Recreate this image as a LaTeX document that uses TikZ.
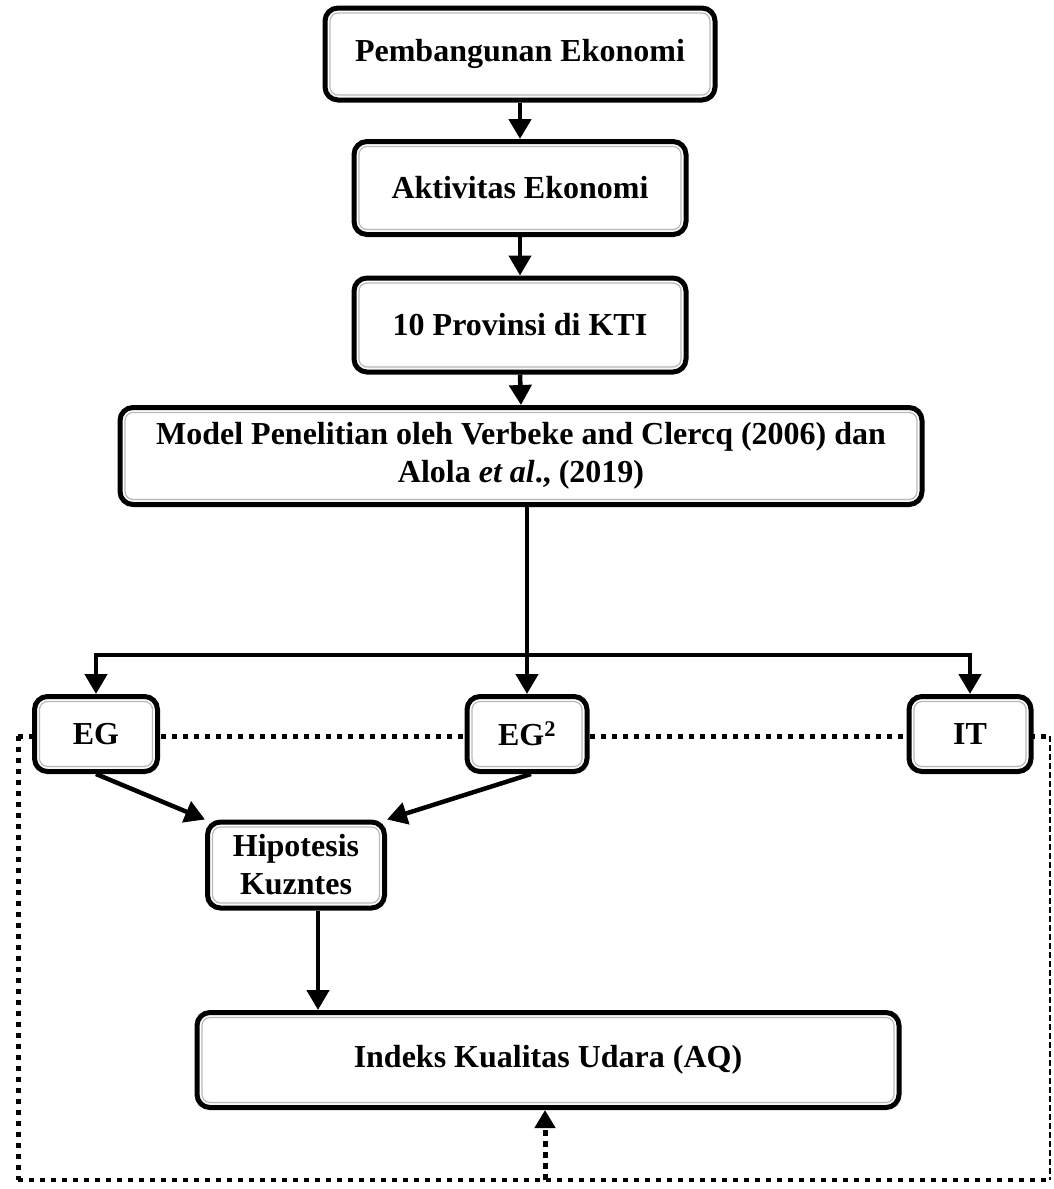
\documentclass[tikz,border=0pt]{standalone}
\usepackage{fontspec}
\setmainfont{Liberation Serif}
\usetikzlibrary{arrows.meta}
\pgfdeclareverticalshading{bevel}{100bp}{color(0bp)=(gray!60); color(12bp)=(gray!30); color(30bp)=(white); color(100bp)=(white)}
\begin{document}
\begin{tikzpicture}[x=1pt,y=-1pt,
  box/.style={draw=black, line width=5pt, rounded corners=13pt,
    shading=bevel,
    font=\bfseries\fontsize{32}{38}\selectfont, align=center, inner sep=0pt,
    path picture={\draw[gray!55, line width=1.2pt, rounded corners=8pt]
      ([shift={(5pt,-5pt)}]path picture bounding box.north west) rectangle
      ([shift={(-5pt,5pt)}]path picture bounding box.south east);}},
  arr/.style={line width=4.5pt, -{Triangle[length=20pt,width=22pt]}},
  plain/.style={line width=4.5pt},
  dots/.style={line width=5pt, dash pattern=on 5pt off 6pt},
  thindash/.style={line width=1.4pt, dash pattern=on 6pt off 3pt},
  dotarr/.style={line width=5pt, dash pattern=on 6pt off 5pt, -{Triangle[length=18pt,width=20pt]}}
]
\useasboundingbox (0,0) rectangle (1054,1189);
% dotted frame coordinates
\coordinate (tl) at (18,736);
\coordinate (tr) at (1050,736);
\coordinate (bl) at (18,1180);
\coordinate (br) at (1050,1180);
\coordinate (bm) at (545,1180);
\draw[dots] (tl) -- (tr);
\draw[dots] (tl) -- (bl);
\draw[thindash] (tr) -- (br);
\draw[line width=4pt, dash pattern=on 5pt off 6pt] (bl) -- (br);

% nodes
\node[box, minimum width=390, minimum height=92] (P) at (520,54) {Pembangunan Ekonomi};
\node[box, minimum width=332, minimum height=93] (A) at (520,188) {Aktivitas Ekonomi};
\node[box, minimum width=332, minimum height=94] (K) at (520,325) {10 Provinsi di KTI};
\node[box, minimum width=802, minimum height=97] (M) at (521,456) {Model Penelitian oleh Verbeke and Clercq (2006) dan\\Alola \textit{et al}., (2019)};
\node[box, minimum width=123, minimum height=75] (EG) at (96,734) {EG};
\node[box, minimum width=120, minimum height=75] (EG2) at (527,734) {EG\textsuperscript{2}};
\node[box, minimum width=122, minimum height=75] (IT) at (970,734) {IT};
\node[box, minimum width=177, minimum height=86] (H) at (296,865) {Hipotesis\\Kuzntes};
\node[box, minimum width=702, minimum height=95] (AQ) at (548,1060) {Indeks Kualitas Udara (AQ)};

% connectors
\draw[arr] (P.south) -- (A.north);
\draw[arr] (A.south) -- (K.north);
\draw[arr] (K.south) -- (M.north);
\coordinate (j) at (527,655);
\draw[plain] (M.south -| j) -- (j);
\draw[arr] (j) -| (EG.north);
\draw[arr] (j) -| (IT.north);
\draw[arr] (j) -- (EG2.north);
\draw[arr] (EG.south) -- (H.north west);
\draw[arr] ([xshift=4pt]EG2.south) -- (H.north east);
\draw[arr] ([xshift=22pt]H.south) -- ([xshift=22pt]H.south |- AQ.north);
\draw[dotarr] (bm) -- (bm |- AQ.south);
\end{tikzpicture}
\end{document}
